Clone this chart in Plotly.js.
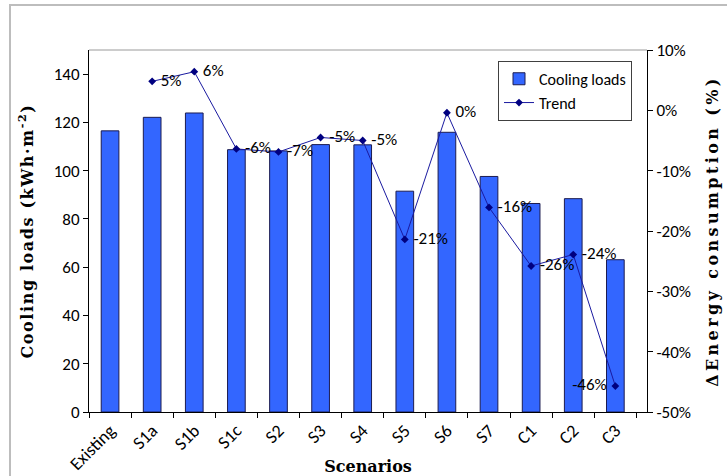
<!DOCTYPE html>
<html><head><meta charset="utf-8">
<script src="https://cdn.plot.ly/plotly-3.0.1.min.js"></script>
<style>
body{margin:0;background:#fff;}
#wrap{position:relative;width:727px;height:476px;overflow:hidden;}
#frame{position:absolute;left:9px;top:4px;width:900px;height:900px;border-left:2px solid #bdbdbd;border-top:2px solid #bdbdbd;pointer-events:none;}
.g-ytitle text{letter-spacing:1.6px;}
.g-y2title text{letter-spacing:3.4px;}
</style></head>
<body><div id="wrap"><div id="plot" style="width:727px;height:476px;"></div><div id="frame"></div></div>
<script>
const scenarios = ['Existing','S1a','S1b','S1c','S2','S3','S4','S5','S6','S7','C1','C2','C3'];
const coolingLoads = [116.5,122.1,123.9,108.7,108.2,110.8,110.7,91.5,115.9,97.6,86.4,88.4,63.1];
const trendScenarios = ['S1a','S1b','S1c','S2','S3','S4','S5','S6','S7','C1','C2','C3'];
const trendValues = [0.048,0.064,-0.064,-0.069,-0.045,-0.050,-0.214,-0.004,-0.161,-0.258,-0.239,-0.457];
const trendLabels = ['5%','6%','-6%','-7%','-5%','-5%','-21%','0%','-16%','-26%','-24%','-46%'];
const labelPos = ['middle right','middle right','middle right','middle right','middle right','middle right','middle right','middle right','middle right','middle right','middle right','middle left'];
const leftTicks = [0,20,40,60,80,100,120,140];
const rightTickVals = [-0.5,-0.4,-0.3,-0.2,-0.1,0,0.1];
const rightTickText = ['-50%','-40%','-30%','-20%','-10%','0%','10%'];

const sans = 'Carlito, Lato, sans-serif';
const serif = '"DejaVu Serif", serif';

const bars = {
  type:'bar', name:'Cooling loads', x:scenarios, y:coolingLoads, width:0.42,
  marker:{color:'#3366ff', line:{color:'#1c1c50', width:1}},
  hoverinfo:'none'
};
const trend = {
  type:'scatter', mode:'lines+markers+text', name:'Trend', x:trendScenarios, y:trendValues, yaxis:'y2',
  text:trendLabels.map((t,i)=> labelPos[i]==='middle left' ? t+' ' : ' '+t), textposition:labelPos,
  textfont:{family:sans, size:17, color:'#000'},
  line:{color:'#1a1aa0', width:1}, marker:{symbol:'diamond', size:6, color:'#000080'},
  cliponaxis:false, hoverinfo:'none'
};

const layout = {
  width:727, height:476,
  margin:{l:89, r:80, t:50, b:64},
  paper_bgcolor:'#fff', plot_bgcolor:'#fff',
  font:{family:sans, size:17, color:'#000'},
  showlegend:true,
  legend:{x:0.733, y:0.97, xanchor:'left', yanchor:'top', bgcolor:'#fff', bordercolor:'#404040', borderwidth:1,
          font:{family:sans, size:16}, tracegroupgap:8, itemwidth:30},
  xaxis:{type:'category', showline:true, linecolor:'#000', linewidth:1, ticks:'outside', ticklen:5, tickcolor:'#000',
         tickson:'boundaries', tickangle:-45, tickfont:{family:sans, size:18}, showgrid:false, zeroline:false,
         title:{text:'Scenarios', font:{family:serif, size:16, weight:'bold'}, standoff:2}},
  yaxis:{range:[0,150], tickvals:leftTicks, showline:true, linecolor:'#000', linewidth:1, ticks:'outside', ticklen:5,
         tickcolor:'#000', showgrid:false, zeroline:false, tickfont:{family:sans, size:17},
         title:{text:'Cooling loads (kWh·m<sup>-2</sup>)', font:{family:serif, size:16, weight:'bold'}, standoff:16}},
  yaxis2:{overlaying:'y', side:'right', range:[-0.5,0.1], tickvals:rightTickVals, ticktext:rightTickText, showline:true, linecolor:'#000', linewidth:1,
          ticks:'outside', ticklen:5, tickcolor:'#000', showgrid:false, zeroline:false, tickfont:{family:sans, size:17},
          title:{text:'ΔEnergy consumption (%)', font:{family:serif, size:16, weight:'bold'}, standoff:16}},
  shapes:[{type:'line', xref:'paper', yref:'paper', x0:0, x1:1, y0:1, y1:1, line:{color:'#9a9a9a', width:1}}]
};
Plotly.newPlot('plot',[bars,trend],layout,{staticPlot:true});
</script></body></html>
